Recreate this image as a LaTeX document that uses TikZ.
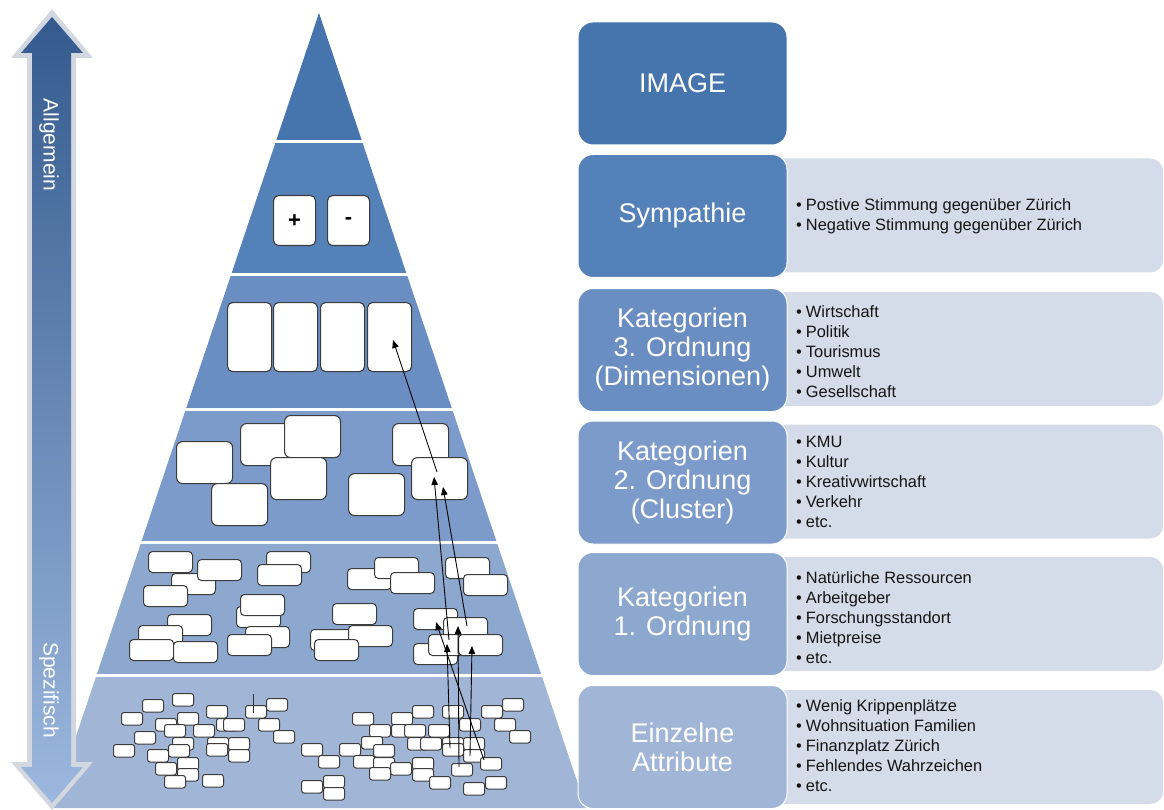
\documentclass[tikz,border=0pt]{standalone}
\usepackage{fontspec}
\setmainfont{Liberation Sans}
\usetikzlibrary{arrows.meta}
\definecolor{cA}{HTML}{4674AC}
\definecolor{cB}{HTML}{5581B9}
\definecolor{cC}{HTML}{6A8DC2}
\definecolor{cD}{HTML}{7C9BCA}
\definecolor{cE}{HTML}{8DA8CF}
\definecolor{cF}{HTML}{A1B5D7}
\definecolor{panelc}{HTML}{D5DCE9}
\definecolor{edgec}{HTML}{3C3C3C}
\definecolor{arrowlight}{HTML}{D2D7E0}
\definecolor{arrowtop}{HTML}{345A8E}
\definecolor{arrowbot}{HTML}{9CB8DE}
\tikzset{
  card/.style={draw=edgec, fill=white, line width=1.1pt, rounded corners=5pt, inner sep=0pt},
  tinycard/.style={draw=edgec, fill=white, line width=1pt, rounded corners=2.5pt, inner sep=0pt,
     minimum width=21pt, minimum height=12.5pt, anchor=north west},
  midcard/.style={draw=edgec, fill=white, line width=1pt, rounded corners=4pt, inner sep=0pt,
     minimum width=44pt, minimum height=21pt, anchor=north west},
  bigcard/.style={draw=edgec, fill=white, line width=1.1pt, rounded corners=6pt, inner sep=0pt,
     minimum width=56pt, minimum height=42pt, anchor=north west},
  catbox/.style={draw=white, line width=1pt, rounded corners=15pt, minimum width=209pt, minimum height=123pt,
     text=white, align=center, font=\fontsize{27}{29}\selectfont, inner sep=0pt},
  panelbox/.style={fill=panelc, rounded corners=13pt, inner sep=0pt, minimum width=395pt, anchor=west},
  paneltext/.style={anchor=west, align=left, font=\fontsize{16.4}{20}\selectfont, inner sep=0pt, text=black!92},
  sep/.style={draw=white, line width=3pt},
  link/.style={draw=black, line width=0.9pt, -{Triangle[length=8pt,width=6.5pt]}},
}
\newcommand{\bl}{\textbullet\hspace{4pt}}
\begin{document}
\begin{tikzpicture}[x=1pt,y=-1pt]
\useasboundingbox (0,0) rectangle (1164,810);

% ---------- pyramid layers ----------
\fill[cA] (319,13) -- (362.3,142) -- (275.7,142) -- cycle;
\fill[cB] (275.7,142) -- (362.3,142) -- (407,275) -- (231,275) -- cycle;
\fill[cC] (231,275) -- (407,275) -- (452.1,409) -- (185.9,409) -- cycle;
\fill[cD] (185.9,409) -- (452.1,409) -- (496.7,542) -- (141.3,542) -- cycle;
\fill[cE] (141.3,542) -- (496.7,542) -- (541.4,675) -- (96.6,675) -- cycle;
\fill[cF] (96.6,675) -- (541.4,675) -- (586.1,808) -- (51.9,808) -- cycle;
\draw[sep] (272,142) -- (366,142);
\draw[sep] (227,275) -- (411,275);
\draw[sep] (182,409) -- (456,409);
\draw[sep] (137,542) -- (501,542);
\draw[sep] (92,675) -- (546,675);

% ---------- layer 2 ----------
\node[card, minimum width=42pt, minimum height=50pt, anchor=north west, font=\bfseries\fontsize{22}{22}\selectfont] (plus) at (273,195) {+};
\node[card, minimum width=42pt, minimum height=50pt, anchor=north west, font=\bfseries\fontsize{22}{22}\selectfont] (minus) at (327,195) {-};

% ---------- layer 3 ----------
\foreach \x [count=\i] in {227,273,320,367}
  \node[card, minimum width=44pt, minimum height=69pt, anchor=north west] (d\i) at (\x,302) {};

% ---------- layer 4 ----------
\foreach \x/\y [count=\i] in {240/423, 284/415, 176/441, 270/457, 211/483, 348/473, 392/423, 411/457}
  \node[bigcard] (c\i) at (\x,\y) {};

% ---------- layer 5 ----------
\foreach \x/\y [count=\i] in {148/551, 171/573, 197/559, 143/585,
   266/551, 257/564,
   347/568, 374/557, 390/572,
   445/557, 463/574,
   236/606, 240/594, 245/626, 227/634,
   167/614, 138/625, 129/639, 173/641,
   332/603, 310/629, 348/625, 314/639,
   413/608, 443/617, 413/643, 428/634, 458/634}
  \node[midcard] (m\i) at (\x,\y) {};

% ---------- layer 6 ----------
\foreach \x/\y [count=\i] in {172/693, 142/699, 121/712, 155/718, 177/712, 206/705, 245/705, 266/698,
   216/718, 223/718, 258/718, 164/724, 193/724, 134/731, 273/730, 172/737, 207/737, 228/737,
   113/744, 168/744, 206/743, 228/749, 147/749, 177/757, 155/762, 177/768, 164/775, 202/774,
   352/712, 391/712, 412/705, 442/705, 481/705, 502/698, 459/718, 494/718,
   369/724, 391/724, 404/724, 428/724, 509/730, 361/736, 407/737, 420/737, 442/737, 463/737,
   301/743, 339/743, 373/744, 442/743, 463/749, 318/755, 353/755, 373/757, 390/762, 412/757,
   480/757, 451/763, 369/767, 412/768, 429/776, 463/782, 485/776, 301/780, 323/775, 323/787}
  \node[tinycard] (t\i) at (\x,\y) {};

\coordinate (tick1) at (253,694);
\coordinate (tick2) at (253,713);
\draw[black!80, line width=0.8pt] (tick1) -- (tick2);

% ---------- connectors ----------
\coordinate (a1s) at (484,760); \coordinate (a1e) at (436,622);
\coordinate (a2s) at (459,767); \coordinate (a2e) at (458,626);
\coordinate (a3s) at (450,748); \coordinate (a3e) at (447,644);
\coordinate (a4s) at (470,756); \coordinate (a4e) at (472,646);
\coordinate (b1s) at (449,640); \coordinate (b1e) at (434,477);
\coordinate (b2s) at (467,626); \coordinate (b2e) at (443,487);
\coordinate (c1s) at (437,472); \coordinate (c1e) at (393,340);
\draw[link] (a1s) -- (a1e);
\draw[link] (a2s) -- (a2e);
\draw[link] (a3s) -- (a3e);
\draw[link] (a4s) -- (a4e);
\draw[link] (b1s) -- (b1e);
\draw[link] (b2s) -- (b2e);
\draw[link] (c1s) -- (c1e);

% ---------- left arrow ----------
\fill[arrowlight] (52,9) -- (93,58) -- (76,58) -- (76,762) -- (93,762) -- (52,810) -- (11,762) -- (27,762) -- (27,58) -- (11,58) -- cycle;
\shade[top color=arrowtop, bottom color=arrowbot]
  (52,17) -- (83,53) -- (71,53) -- (71,767) -- (83,767) -- (52,803) -- (21,767) -- (32,767) -- (32,53) -- (21,53) -- cycle;
\node[rotate=-90, text=white, font=\fontsize{21}{21}\selectfont] (gen) at (49,145) {Allgemein};
\node[rotate=-90, text=white, font=\fontsize{21}{21}\selectfont] (spez) at (49,690) {Spezifisch};

% ---------- right column ----------
\node[panelbox, minimum height=114pt] (p2) at (768,215.5) {};
\node[panelbox, minimum height=114pt] (p3) at (768,349) {};
\node[panelbox, minimum height=114pt] (p4) at (768,481.5) {};
\node[panelbox, minimum height=114pt] (p5) at (768,614) {};
\node[panelbox, minimum height=114pt] (p6) at (768,747) {};

\node[catbox, fill=cA] (k1) at (682.5,83.5) {IMAGE};
\node[catbox, fill=cB] (k2) at (682.5,216) {Sympathie};
\node[catbox, fill=cC] (k3) at (682.5,350) {Kategorien\\3. Ordnung\\(Dimensionen)};
\node[catbox, fill=cD] (k4) at (682.5,482.5) {Kategorien\\2. Ordnung\\(Cluster)};
\node[catbox, fill=cE] (k5) at (682.5,614) {Kategorien\\1. Ordnung};
\node[catbox, fill=cF] (k6) at (682.5,747) {Einzelne\\Attribute};

\node[paneltext] (x2) at (796,216) {\bl Postive Stimmung gegenüber Zürich\\\bl Negative Stimmung gegenüber Zürich};
\node[paneltext] (x3) at (796,352) {\bl Wirtschaft\\\bl Politik\\\bl Tourismus\\\bl Umwelt\\\bl Gesellschaft};
\node[paneltext] (x4) at (796,482) {\bl KMU\\\bl Kultur\\\bl Kreativwirtschaft\\\bl Verkehr\\\bl etc.};
\node[paneltext] (x5) at (796,618) {\bl Natürliche Ressourcen\\\bl Arbeitgeber\\\bl Forschungsstandort\\\bl Mietpreise\\\bl etc.};
\node[paneltext] (x6) at (796,746) {\bl Wenig Krippenplätze\\\bl Wohnsituation Familien\\\bl Finanzplatz Zürich\\\bl Fehlendes Wahrzeichen\\\bl etc.};
\end{tikzpicture}
\end{document}
